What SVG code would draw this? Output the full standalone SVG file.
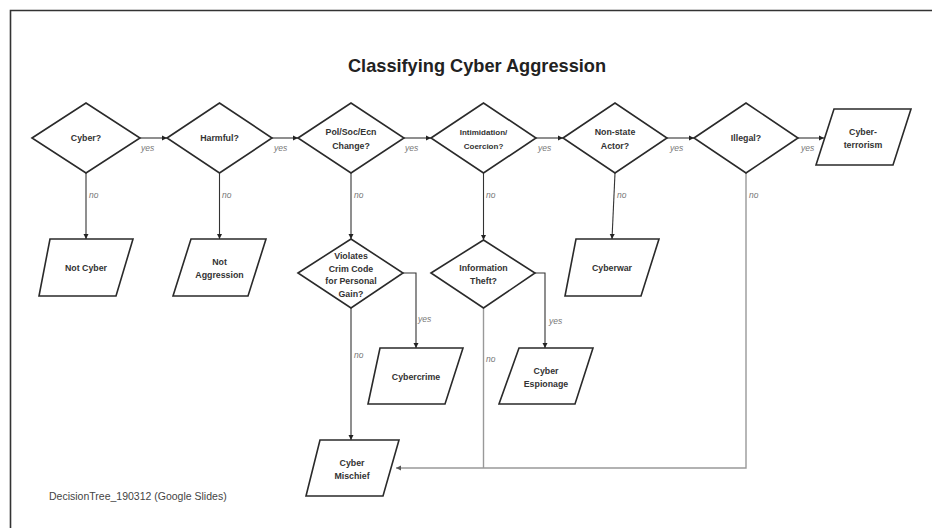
<svg xmlns="http://www.w3.org/2000/svg" width="932" height="528" viewBox="0 0 932 528">
<defs>
<marker id="ah" markerWidth="6" markerHeight="6" refX="5" refY="3" orient="auto" markerUnits="userSpaceOnUse">
<path d="M0,0.5 L5,3 L0,5.5 Z" fill="#222"/>
</marker>
<marker id="ahg" markerWidth="6" markerHeight="6" refX="5" refY="3" orient="auto" markerUnits="userSpaceOnUse">
<path d="M0,0.5 L5,3 L0,5.5 Z" fill="#555"/>
</marker>
</defs>
<style>
.shape{fill:#fff;stroke:#2a2a2a;stroke-width:1.6}
.t{font-family:"Liberation Sans",Arial,sans-serif;font-weight:bold;font-size:8.8px;fill:#333;text-anchor:middle}
.lbl{font-family:"Liberation Sans",Arial,sans-serif;font-style:italic;font-size:8.5px;fill:#777}
.e{fill:none;stroke:#333;stroke-width:1.1;marker-end:url(#ah)}
.eg{fill:none;stroke:#999;stroke-width:1.4}
</style>
<rect width="932" height="528" fill="#fff"/>
<path d="M10.5,528 V10.5 H932" fill="none" stroke="#333" stroke-width="1.6"/>
<text x="477" y="72" font-family="Liberation Sans,Arial,sans-serif" font-weight="bold" font-size="18.2" fill="#222" text-anchor="middle">Classifying Cyber Aggression</text>
<text x="49" y="500" font-family="Liberation Sans,Arial,sans-serif" font-size="10.5" fill="#444">DecisionTree_190312 (Google Slides)</text>

<g id="connectors">
<path class="e" d="M140,138 H167"/>
<path class="e" d="M272,138 H298"/>
<path class="e" d="M404,138 H431"/>
<path class="e" d="M536,138 H563"/>
<path class="e" d="M667,138 H694"/>
<path class="e" d="M798,138 H824"/>
<path class="e" d="M86,173 V239"/>
<path class="e" d="M219.5,173 V239"/>
<path class="e" d="M351,173 V239"/>
<path class="e" d="M483.5,173 V240"/>
<path class="e" d="M615,173 L612,239"/>
<path class="e" d="M403,273 H416 V348"/>
<path class="e" d="M535,273 H545 V348"/>
<path class="e" d="M351,308 V440"/>
<path class="eg" d="M483.5,308 V468"/>
<path class="eg" d="M746,173 V468 H396" style="marker-end:url(#ahg)"/>
<text class="lbl" x="141" y="151">yes</text>
<text class="lbl" x="274" y="151">yes</text>
<text class="lbl" x="405" y="151">yes</text>
<text class="lbl" x="538" y="151">yes</text>
<text class="lbl" x="670" y="151">yes</text>
<text class="lbl" x="801" y="151">yes</text>
<text class="lbl" x="89" y="198">no</text>
<text class="lbl" x="222" y="198">no</text>
<text class="lbl" x="354" y="198">no</text>
<text class="lbl" x="486" y="198">no</text>
<text class="lbl" x="617" y="198">no</text>
<text class="lbl" x="749" y="198">no</text>
<text class="lbl" x="418" y="322">yes</text>
<text class="lbl" x="549" y="324">yes</text>
<text class="lbl" x="354" y="358">no</text>
<text class="lbl" x="486" y="362">no</text>
</g>

<g id="cyber-q">
<polygon class="shape" points="32,138 86,103 140,138 86,173"/>
<text class="t" x="86" y="141">Cyber?</text>
</g>
<g id="harmful-q">
<polygon class="shape" points="167,138 219.5,103 272,138 219.5,173"/>
<text class="t" x="219.5" y="141">Harmful?</text>
</g>
<g id="pol-q">
<polygon class="shape" points="298,138 351,103 404,138 351,173"/>
<text class="t" x="351" y="135">Pol/Soc/Ecn</text>
<text class="t" x="351" y="149">Change?</text>
</g>
<g id="intim-q">
<polygon class="shape" points="431,138 483.5,103 536,138 483.5,173"/>
<text class="t" x="483.5" y="135" style="font-size:8px">Intimidation/</text>
<text class="t" x="483.5" y="149" style="font-size:8px">Coercion?</text>
</g>
<g id="nonstate-q">
<polygon class="shape" points="563,138 615,103 667,138 615,173"/>
<text class="t" x="615" y="135">Non-state</text>
<text class="t" x="615" y="149">Actor?</text>
</g>
<g id="illegal-q">
<polygon class="shape" points="694,138 746,103 798,138 746,173"/>
<text class="t" x="746" y="141">Illegal?</text>
</g>
<g id="cyberterrorism">
<polygon class="shape" points="834,109 911,109 893,165 816,165"/>
<text class="t" x="863" y="135">Cyber-</text>
<text class="t" x="863" y="148">terrorism</text>
</g>
<g id="not-cyber">
<polygon class="shape" points="50,239 133,239 116,296 39,296"/>
<text class="t" x="86" y="271">Not Cyber</text>
</g>
<g id="not-aggression">
<polygon class="shape" points="191,239 266,239 248,296 173,296"/>
<text class="t" x="219.5" y="265">Not</text>
<text class="t" x="219.5" y="278">Aggression</text>
</g>
<g id="violates-q">
<polygon class="shape" points="298,273 351,239 403,273 351,308"/>
<text class="t" x="351" y="259">Violates</text>
<text class="t" x="351" y="271.5">Crim Code</text>
<text class="t" x="351" y="284">for Personal</text>
<text class="t" x="351" y="296.5">Gain?</text>
</g>
<g id="info-theft-q">
<polygon class="shape" points="431,273 483.5,240 535,273 483.5,308"/>
<text class="t" x="483.5" y="271">Information</text>
<text class="t" x="483.5" y="284">Theft?</text>
</g>
<g id="cyberwar">
<polygon class="shape" points="576,239 659,239 641,296 565,296"/>
<text class="t" x="612" y="271">Cyberwar</text>
</g>
<g id="cybercrime">
<polygon class="shape" points="380,348 463,348 445,404 368,404"/>
<text class="t" x="416" y="380">Cybercrime</text>
</g>
<g id="cyber-espionage">
<polygon class="shape" points="519,348 593,348 575,404 499,404"/>
<text class="t" x="546" y="374">Cyber</text>
<text class="t" x="546" y="387">Espionage</text>
</g>
<g id="cyber-mischief">
<polygon class="shape" points="320,440 399,440 383,496 306,496"/>
<text class="t" x="352" y="466">Cyber</text>
<text class="t" x="352" y="479">Mischief</text>
</g>
</svg>
